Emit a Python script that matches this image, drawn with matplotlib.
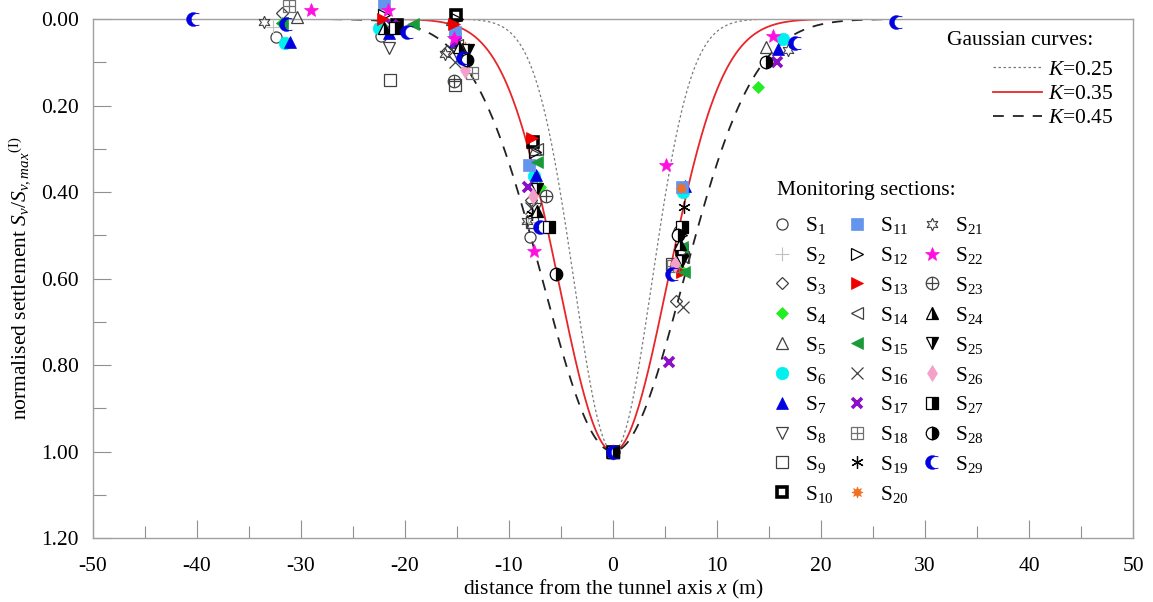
import numpy as np
import matplotlib
matplotlib.use("Agg")
import matplotlib.pyplot as plt
from matplotlib.path import Path
from matplotlib.legend_handler import HandlerTuple

plt.rcParams['font.family'] = ['Liberation Serif', 'DejaVu Serif']
plt.rcParams['mathtext.fontset'] = 'custom'
plt.rcParams['mathtext.rm'] = 'Liberation Serif'
plt.rcParams['mathtext.it'] = 'Liberation Serif:italic'
plt.rcParams['axes.unicode_minus'] = False

# ---------------- data ----------------
Z0 = 15.0                       # tunnel axis depth (m)
K_values = [0.25, 0.35, 0.45]
K_labels = ["$K$=0.25", "$K$=0.35", "$K$=0.45"]

x_ticks = [-50, -40, -30, -20, -10, 0, 10, 20, 30, 40, 50]
y_ticks = [0.00, 0.20, 0.40, 0.60, 0.80, 1.00, 1.20]

s1 = [(-32.4, 0.042), (-22.3, 0.040), (-8.0, 0.503), (6.3, 0.490), (0, 1.0)]
s2 = [(-32.7, 0.018), (-22.0, 0.000), (-8.2, 0.470), (0, 1.0)]
s3 = [(-31.8, -0.014), (-16.0, 0.075), (-7.9, 0.418), (6.1, 0.653), (0, 1.0)]
s4 = [(-31.8, 0.010), (-22.0, 0.020), (-7.0, 0.388), (6.5, 0.580), (13.9, 0.157), (0, 1.0)]
s5 = [(-30.4, -0.005), (-15.5, 0.000), (-7.5, 0.300), (14.7, 0.065), (0, 1.0)]
s6 = [(-31.5, 0.055), (-22.5, 0.020), (-15.2, 0.035), (-7.6, 0.364), (6.7, 0.400), (16.3, 0.046), (0, 1.0)]
s7 = [(-31.1, 0.053), (-21.5, 0.033), (-15.2, 0.050), (-7.4, 0.360), (6.9, 0.385), (15.9, 0.070), (0, 1.0)]
s8 = [(-21.5, 0.067), (-15.0, 0.080), (-7.5, 0.440), (6.5, 0.550), (0, 1.0)]
s9 = [(-21.4, 0.140), (-15.2, 0.152), (-7.8, 0.470), (5.7, 0.567), (0, 1.0)]
s10 = [(-20.8, 0.014), (-15.1, -0.010), (-7.7, 0.284), (6.6, 0.537), (0, 1.0)]
s11 = [(-22.0, -0.037), (-15.2, 0.030), (-8.1, 0.337), (6.6, 0.388), (0, 1.0)]
s12 = [(-22.0, -0.010), (-15.0, 0.000), (-7.5, 0.307), (6.5, 0.500), (0, 1.0)]
s13 = [(-22.1, 0.000), (-15.3, 0.012), (-7.8, 0.275), (6.6, 0.584), (0, 1.0)]
s14 = [(-15.0, 0.060), (-7.3, 0.300), (6.7, 0.550), (0, 1.0)]
s15 = [(-31.8, 0.010), (-19.2, 0.012), (-7.3, 0.330), (6.6, 0.526), (6.8, 0.586), (0, 1.0)]
s16 = [(-15.2, 0.100), (-7.9, 0.436), (6.7, 0.667), (0, 1.0)]
s17 = [(-21.3, 0.014), (-15.1, 0.053), (-8.2, 0.388), (5.4, 0.794), (15.8, 0.100), (0, 1.0)]
s18 = [(-31.2, -0.030), (-13.6, 0.124), (5.8, 0.570), (0, 1.0)]
s19 = [(-14.5, 0.070), (-7.8, 0.450), (6.8, 0.434), (0, 1.0)]
s20 = [(-14.2, 0.065), (6.5, 0.390), (0, 1.0)]
s21 = [(-33.6, 0.007), (-16.2, 0.080), (-8.3, 0.468), (16.8, 0.072), (0, 1.0)]
s22 = [(-29.0, -0.020), (-21.6, -0.020), (-15.3, 0.045), (-7.6, 0.537), (5.1, 0.337), (15.4, 0.039), (0, 1.0)]
s23 = [(-15.3, 0.143), (-6.4, 0.410), (0, 1.0)]
s24 = [(-22.0, 0.020), (-14.8, 0.065), (-7.3, 0.445), (6.4, 0.520), (0, 1.0)]
s25 = [(-13.9, 0.072), (-7.3, 0.394), (6.6, 0.560), (0, 1.0)]
s26 = [(-14.2, 0.117), (-7.7, 0.410), (6.0, 0.567), (0, 1.0)]
s27 = [(-21.0, 0.020), (-6.2, 0.480), (6.6, 0.480), (0, 1.0)]
s28 = [(-14.0, 0.095), (-5.5, 0.590), (6.2, 0.500), (14.7, 0.099), (0, 1.0)]
s29 = [(-40.4, 0.000), (-31.4, 0.012), (-19.8, 0.030), (-14.4, 0.090), (-7.0, 0.480), (5.7, 0.590),
       (17.5, 0.055), (27.2, 0.007), (0, 1.0)]

sections = [s1, s2, s3, s4, s5, s6, s7, s8, s9, s10, s11, s12, s13, s14, s15,
            s16, s17, s18, s19, s20, s21, s22, s23, s24, s25, s26, s27, s28, s29]

# ---------------- marker styles ----------------
th = np.linspace(np.radians(55), np.radians(305), 40)
outer = np.column_stack([np.cos(th), np.sin(th)])
th2 = np.linspace(np.radians(290), np.radians(70), 40)
inner = np.column_stack([0.55 + 0.85 * np.cos(th2), 0.85 * np.sin(th2)])
crescent = Path(np.vstack([outer, inner, outer[:1]]), closed=True)

GR = '#404040'
styles = [
    [dict(marker='o', mfc='none', mec=GR, mew=0.9)],
    [dict(marker='+', mfc='none', mec='#c0c0c0', mew=0.8, ms=10)],
    [dict(marker='D', mfc='none', mec=GR, mew=0.9, ms=6.5)],
    [dict(marker='D', mfc='#22ee22', mec='#22ee22', mew=0.5, ms=6.5)],
    [dict(marker='^', mfc='none', mec=GR, mew=0.9)],
    [dict(marker='o', mfc='#00f0f0', mec='#00f0f0', mew=0.5, ms=9)],
    [dict(marker='^', mfc='#0000e0', mec='#0000e0', mew=0.5)],
    [dict(marker='v', mfc='none', mec=GR, mew=0.9)],
    [dict(marker='s', mfc='none', mec=GR, mew=0.9)],
    [dict(marker='s', mfc='white', mec='black', mew=2.6, ms=7)],
    [dict(marker='s', mfc='#6495ed', mec='#6495ed', mew=0.5)],
    [dict(marker='>', mfc='none', mec='black', mew=0.9)],
    [dict(marker='>', mfc='#ee0000', mec='#ee0000', mew=0.5)],
    [dict(marker='<', mfc='none', mec=GR, mew=0.9)],
    [dict(marker='<', mfc='#1a9a3a', mec='#1a9a3a', mew=0.5)],
    [dict(marker='x', mfc='none', mec=GR, mew=0.9, ms=9)],
    [dict(marker='x', mfc='none', mec='#8a10c8', mew=2.6, ms=7.5)],
    [dict(marker='s', mfc='none', mec='#707070', mew=0.9, ms=9),
     dict(marker='+', mfc='none', mec='#707070', mew=0.9, ms=9)],
    [dict(marker=(6, 2, 0), mfc='none', mec='black', mew=0.9, ms=9)],
    [dict(marker=(8, 1, 0), mfc='#f07020', mec='#f07020', mew=0.5, ms=8)],
    [dict(marker=(6, 1, 0), mfc='none', mec=GR, mew=0.8, ms=9)],
    [dict(marker='*', mfc='#ff10e0', mec='#ff10e0', mew=0.5, ms=10)],
    [dict(marker='o', mfc='none', mec=GR, mew=0.9, ms=9),
     dict(marker='+', mfc='none', mec=GR, mew=0.9, ms=9)],
    [dict(marker='^', mfc='black', mfcalt='white', fillstyle='right', mec='black', mew=0.9)],
    [dict(marker='v', mfc='black', mfcalt='white', fillstyle='right', mec='black', mew=0.9)],
    [dict(marker='d', mfc='#f4a0c8', mec='#f4a0c8', mew=0.5, ms=8)],
    [dict(marker='s', mfc='black', mfcalt='white', fillstyle='right', mec='black', mew=0.9)],
    [dict(marker='o', mfc='black', mfcalt='white', fillstyle='right', mec='black', mew=0.9, ms=9)],
    [dict(marker=crescent, mfc='#0000e0', mec='#0000e0', mew=0.3, ms=10)],
]

# ---------------- figure ----------------
FS = 15.5
fig = plt.figure(figsize=(11.53, 6.02), dpi=100)
ax = fig.add_axes([0.0807, 0.1063, 0.902, 0.8621])

xs = np.linspace(-50, 50, 1001)
curve_styles = [dict(color='#7a7a7a', lw=0.9, ls=(0, (2, 2))),
                dict(color='#e8262a', lw=1.3, ls='-'),
                dict(color='#222222', lw=1.3, ls=(0, (6, 5)))]
curve_handles = []
for K, lab, st in zip(K_values, K_labels, curve_styles):
    i = K * Z0
    h, = ax.plot(xs, np.exp(-xs ** 2 / (2 * i ** 2)), zorder=2, **st)
    curve_handles.append(h)

sec_handles = []
for n, (pts, st_list) in enumerate(zip(sections, styles)):
    arr = np.array(pts)
    hs = []
    for st in st_list:
        st = dict(st)
        ms = st.pop('ms', 8)
        h, = ax.plot(arr[:, 0], arr[:, 1], ls='none', ms=ms, clip_on=False, zorder=3 + n * 0.01, **st)
        hs.append(h)
    sec_handles.append(tuple(hs) if len(hs) > 1 else hs[0])

sec_labels = ["S$_{%d}$" % (k + 1) for k in range(len(sections))]

ax.set_xlim(-50, 50)
ax.set_ylim(1.2, 0.0)
ax.set_xticks(x_ticks)
ax.set_xticks(np.arange(-45, 50, 10), minor=True)
ax.set_yticks(y_ticks)
ax.set_yticks(np.arange(0.1, 1.2, 0.2), minor=True)
ax.set_yticklabels(["%.2f" % v for v in y_ticks])
ax.set_xticklabels([str(v) for v in x_ticks])
ax.tick_params(which='both', direction='in', color='#909090', labelsize=FS, width=0.8)
ax.tick_params(which='major', length=13)
ax.tick_params(which='minor', length=9)
ax.tick_params(axis='x', pad=14)
ax.tick_params(axis='y', pad=10)
for sp in ax.spines.values():
    sp.set_color('#a0a0a0')
    sp.set_linewidth(1.0)

ax.set_xlabel("distance from the tunnel axis $x$ (m)", fontsize=FS, labelpad=1)
ax.set_ylabel(r"normalised settlement $S_v/S_{v,max}$$^{(\mathrm{I})}$", fontsize=FS, labelpad=6)

# Gaussian curves legend
ax.text(0.891, 0.9595, "Gaussian curves:", transform=ax.transAxes, ha='center', va='center',
        fontsize=FS)
leg1 = ax.legend(curve_handles, K_labels, loc='upper right',
                 bbox_to_anchor=(0.9995, 0.959), frameon=False, fontsize=FS,
                 handlelength=2.3, labelspacing=0.2, handletextpad=0.25)
ax.add_artist(leg1)

# Monitoring sections legend
ax.text(0.6577, 0.6705, "Monitoring sections:", transform=ax.transAxes, ha='left', va='center',
        fontsize=FS)
leg2 = ax.legend(sec_handles, sec_labels, ncol=3,
                 loc='upper left', bbox_to_anchor=(0.6335, 0.659), frameon=False,
                 fontsize=FS, handlelength=1.0, handletextpad=0.57,
                 columnspacing=0.57, labelspacing=0.41,
                 handler_map={tuple: HandlerTuple(ndivide=1, pad=0)})

fig.savefig("out.png", dpi=100)
